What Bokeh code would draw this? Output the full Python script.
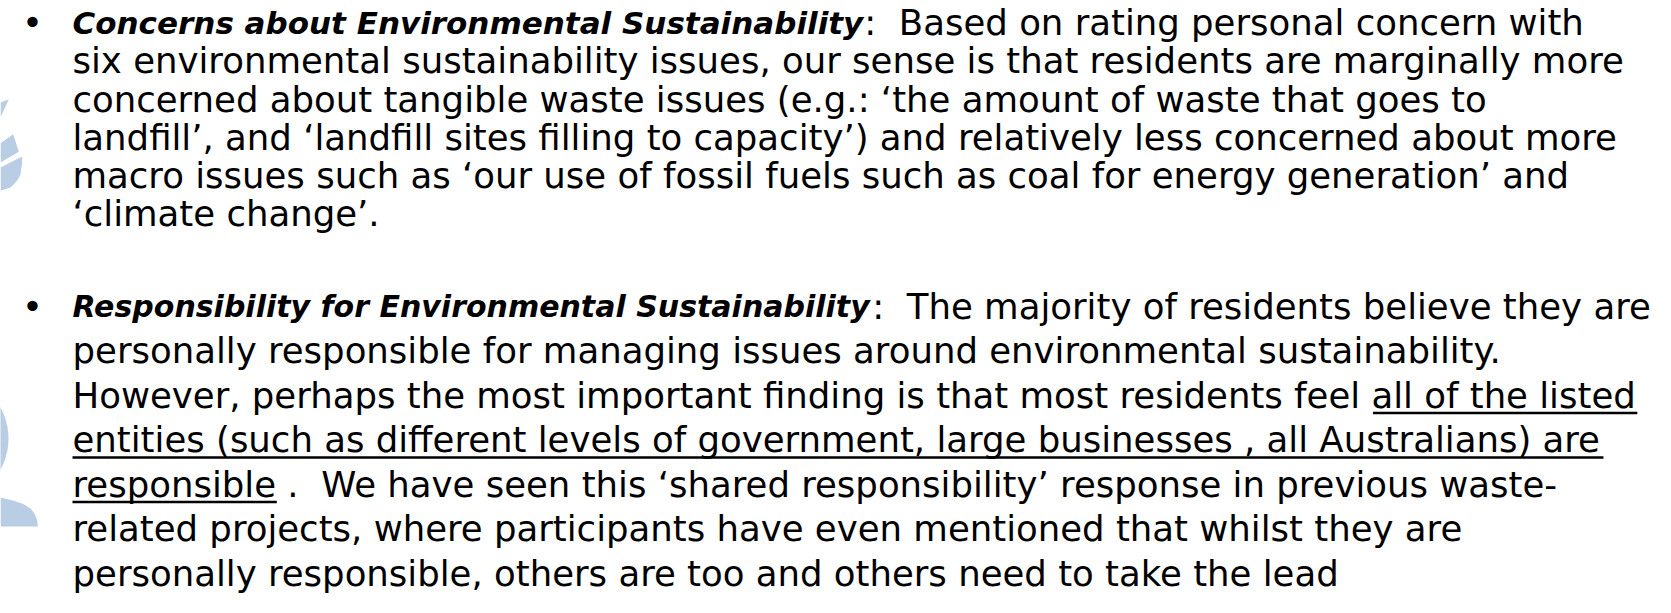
from bokeh.plotting import figure
from bokeh.models import Range1d, ColumnDataSource
from bokeh.embed import file_html
from bokeh.resources import INLINE
from bokeh.core.properties import value, field

# ---------------- content ----------------
headings = [
    "Concerns about Environmental Sustainability",
    "Responsibility for Environmental Sustainability",
]
heading_tails = [
    ":\u00a0 Based on rating personal concern with",
    ":\u00a0 The majority of residents believe they are",
]
para1_lines = [
    "six environmental sustainability issues, our sense is that residents are marginally more",
    "concerned about tangible waste issues (e.g.: \u2018the amount of waste that goes to",
    "landfill\u2019, and \u2018landfill sites filling to capacity\u2019) and relatively less concerned about more",
    "macro issues such as \u2018our use of fossil fuels such as coal for energy generation\u2019 and",
    "\u2018climate change\u2019.",
]
para2_lines = [
    "personally responsible for managing issues around environmental sustainability.",
    "However, perhaps the most important finding is that most residents feel all of the listed",
    "entities (such as different levels of government, large businesses , all Australians) are",
    "responsible .\u00a0 We have seen this \u2018shared responsibility\u2019 response in previous waste-",
    "related projects, where participants have even mentioned that whilst they are",
    "personally responsible, others are too and others need to take the lead",
]
# (line index in para2_lines, underlined span)
underlined = [
    (1, "all of the listed"),
    (2, "entities (such as different levels of government, large businesses , all Australians) are"),
    (3, "responsible"),
]

# ---------------- layout ----------------
FONT = "DejaVu Sans"
BODY = 35.5
HEAD_SIZES = [31, 30]
X0 = 80.0
BULLET_X = 40.0
P1_BASE, P1_STEP = 30.2, 38.2
P2_BASE, P2_STEP = 313.5, 44.5
UNDER_DY = 18
SHAPE_DX = 8
BLUE = "#B9CDE5"

REG = {' ': .318, '\u00a0': .318, ',': .318, '.': .318, ':': .337, '(': .390, ')': .390,
       '-': .361, '\u2018': .318, '\u2019': .318, 'A': .684, 'H': .752, 'W': .989,
       'T': .611, 'B': .686, 'a': .613, 'b': .635, 'c': .550, 'd': .635, 'e': .615,
       'f': .352, 'g': .635, 'h': .634, 'i': .278, 'j': .278, 'k': .579, 'l': .278,
       'm': .974, 'n': .634, 'o': .612, 'p': .635, 'q': .635, 'r': .411, 's': .521,
       't': .392, 'u': .634, 'v': .592, 'w': .818, 'x': .592, 'y': .592, 'z': .525}
BOLD = {' ': .348, 'C': .734, 'E': .683, 'R': .770, 'S': .720, 'a': .675, 'b': .716,
        'c': .593, 'e': .678, 'f': .435, 'i': .343, 'l': .343, 'm': 1.042, 'n': .712,
        'o': .687, 'p': .716, 'r': .493, 's': .595, 't': .478, 'u': .712, 'v': .652,
        'y': .652}


def tw(s, table, size):
    return sum(table.get(ch, 0.6) for ch in s) * size


p = figure(width=1655, height=597, x_range=Range1d(8, 1663), y_range=Range1d(605, 8),
           output_backend="svg", toolbar_location=None, min_border=0,
           x_axis_type=None, y_axis_type=None, outline_line_color=None,
           background_fill_color="white", border_fill_color="white")
p.grid.visible = False

# decorative light-blue logo fragments at the left edge
shapes_x = [
    [0, 8.3, 0],
    [0, 12.7, 18.3, 0],
    [0, 21.7, 21.5, 20.0, 16.7, 10.0, 0],
    [0, 13.3, 23.3, 30.0, 34.3, 36.7, 37.3, 0],
]
shapes_y = [
    [110, 106.7, 125],
    [150.7, 141.7, 159.3, 170],
    [175, 164, 171, 182, 188.3, 195, 198.3],
    [505, 508.3, 511.7, 516, 521.7, 528.3, 534, 534],
]
shapes_x = [[x + SHAPE_DX for x in xs] for xs in shapes_x]
p.patches(shapes_x, shapes_y, fill_color=BLUE, line_color=None)
p.ellipse(x=[-56 + SHAPE_DX], y=[446], width=[128], height=[128], fill_color=BLUE,
          line_color=None)

# baselines
p1_y = [P1_BASE + i * P1_STEP for i in range(len(para1_lines) + 1)]
p2_y = [P2_BASE + i * P2_STEP for i in range(len(para2_lines) + 1)]
head_y = [p1_y[0], p2_y[0]]

# bullets
p.text(x=[BULLET_X] * 2, y=head_y, text=["\u2022", "\u2022"], text_align="center",
       text_baseline="alphabetic", text_font=value(FONT), text_font_size=f"{BODY}px",
       text_color="black")

# headings (bold italic)
head_src = ColumnDataSource(dict(x=[X0] * 2, y=head_y, text=headings,
                                 size=[f"{s}px" for s in HEAD_SIZES]))
p.text(x="x", y="y", text="text", source=head_src, text_align="left",
       text_baseline="alphabetic", text_font=value(FONT), text_font_size=field("size"),
       text_font_style="bold italic", text_color="black")

# heading tails
tail_x = [X0 + tw(h, BOLD, s) + 1 for h, s in zip(headings, HEAD_SIZES)]
p.text(x=tail_x, y=head_y, text=heading_tails, text_align="left", text_baseline="alphabetic",
       text_font=value(FONT), text_font_size=f"{BODY}px", text_color="black")

# body lines
body_text = para1_lines + para2_lines
body_y = p1_y[1:] + p2_y[1:]
p.text(x=[X0] * len(body_text), y=body_y, text=body_text, text_align="left",
       text_baseline="alphabetic", text_font=value(FONT), text_font_size=f"{BODY}px",
       text_color="black")

# underlines
ux0, ux1, uy = [], [], []
for li, span in underlined:
    line = para2_lines[li]
    pos = line.find(span)
    s = X0 + tw(line[:pos], REG, BODY)
    ux0.append(s)
    ux1.append(s + tw(span, REG, BODY))
    uy.append(p2_y[li + 1] + UNDER_DY)
p.segment(x0=ux0, y0=uy, x1=ux1, y1=uy, line_color="black", line_width=2.5)

open("out.html", "w").write(file_html(p, INLINE))
